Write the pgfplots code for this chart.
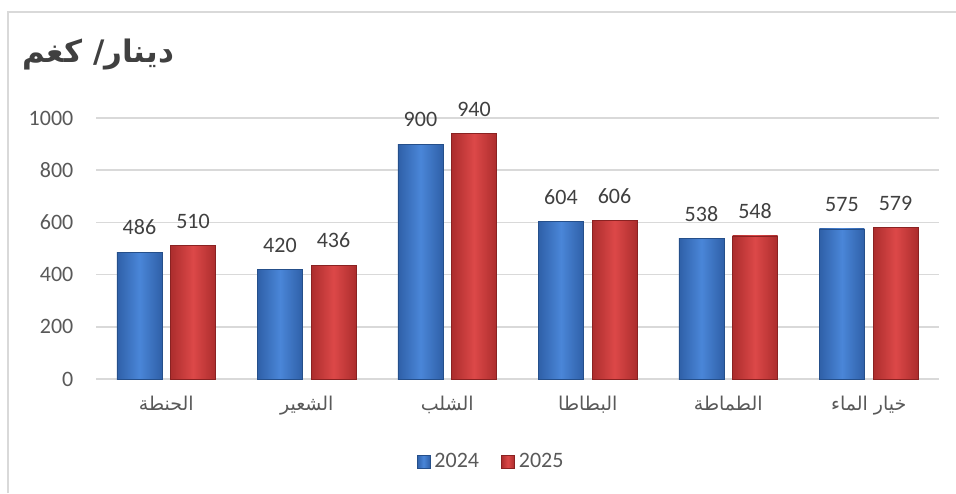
\documentclass[border=0pt]{standalone}
\usepackage{pgfplots}
\pgfplotsset{compat=1.18}
\usepackage{fontspec}
\setmainfont{Carlito}
\newfontfamily\arabicfont[Script=Arabic]{DejaVu Sans}
\TeXXeTstate=1
\definecolor{txt}{HTML}{595959}
\definecolor{lbl}{HTML}{404040}
\definecolor{gridc}{HTML}{D9D9D9}
\definecolor{bmain}{HTML}{4A86D8}
\definecolor{bdark}{HTML}{2F60A8}
\definecolor{bedge}{HTML}{254F8A}
\definecolor{rmain}{HTML}{DC4848}
\definecolor{rdark}{HTML}{AC2D2D}
\definecolor{redge}{HTML}{8A2222}
\pgfplotsset{
  bluebar/.style={bar shift=-13.4pt, draw=bedge, line width=0.4pt, left color=bdark, right color=bdark, middle color=bmain},
  redbar/.style={bar shift=13.4pt, draw=redge, line width=0.4pt, left color=rdark, right color=rdark, middle color=rmain},
}
\begin{document}
\begin{tikzpicture}
\useasboundingbox (0,0) rectangle (478pt,246.5pt);
\fill[white] (0,0) rectangle (478pt,246.5pt);
\draw[gridc, line width=1pt] (4pt,0) -- (4pt,240.5pt) -- (478pt,240.5pt);
\node[anchor=west, inner sep=0pt, text=lbl] at (11pt,219pt) {\fontsize{15.5}{18}\selectfont\arabicfont\bfseries\beginR دينار/ كغم\endR};
\begin{axis}[
  at={(48pt,57pt)}, anchor=south west,
  scale only axis, width=421.5pt, height=130.5pt,
  xmin=-0.5, xmax=5.5, ymin=0, ymax=1000,
  ytick={0,200,...,1000},
  xtick={0,...,5},
  xticklabels={{\arabicfont\beginR الحنطة\endR},{\arabicfont\beginR الشعير\endR},{\arabicfont\beginR الشلب\endR},{\arabicfont\beginR البطاطا\endR},{\arabicfont\beginR الطماطة\endR},{\arabicfont\beginR خيار الماء\endR}},
  /pgf/number format/assume math mode=true,
  /pgf/number format/1000 sep={},
  axis line style={draw=none},
  major tick length=0pt, tick style={draw=none},
  ymajorgrids, major grid style={gridc, line width=0.8pt},
  yticklabel style={font=\fontsize{11}{13}\selectfont, text=txt, xshift=-7.8pt},
  xticklabel style={font=\fontsize{9.5}{12}\selectfont, text=txt, yshift=-5pt},
  ybar, bar width=22.5pt,
  clip=false,
  nodes near coords,
  nodes near coords style={font=\fontsize{11}{13}\selectfont, text=lbl, yshift=5pt},
  legend style={at={(0.4698,-0.318)}, anchor=center, draw=none, fill=none,
    legend columns=2, font=\fontsize{11}{13}\selectfont, text=txt,
    /tikz/every even column/.style={column sep=9pt}},
  legend image code/.code={\draw[#1] (0pt,-3.25pt) rectangle (6.5pt,3.25pt);},
]
% 2024
\addplot[bluebar, forget plot] coordinates {(0,486)};
\addplot[bluebar, forget plot] coordinates {(1,420)};
\addplot[bluebar, forget plot] coordinates {(2,900)};
\addplot[bluebar, forget plot] coordinates {(3,604)};
\addplot[bluebar, forget plot] coordinates {(4,538)};
\addplot[bluebar, forget plot] coordinates {(5,575)};
% 2025
\addplot[redbar, forget plot] coordinates {(0,510)};
\addplot[redbar, forget plot] coordinates {(1,436)};
\addplot[redbar, forget plot] coordinates {(2,940)};
\addplot[redbar, forget plot] coordinates {(3,606)};
\addplot[redbar, forget plot] coordinates {(4,548)};
\addplot[redbar, forget plot] coordinates {(5,579)};
\addlegendimage{draw=bedge, line width=0.4pt, left color=bdark, right color=bdark, middle color=bmain}
\addlegendentry{2024}
\addlegendimage{draw=redge, line width=0.4pt, left color=rdark, right color=rdark, middle color=rmain}
\addlegendentry{2025}
\end{axis}
\end{tikzpicture}
\end{document}
